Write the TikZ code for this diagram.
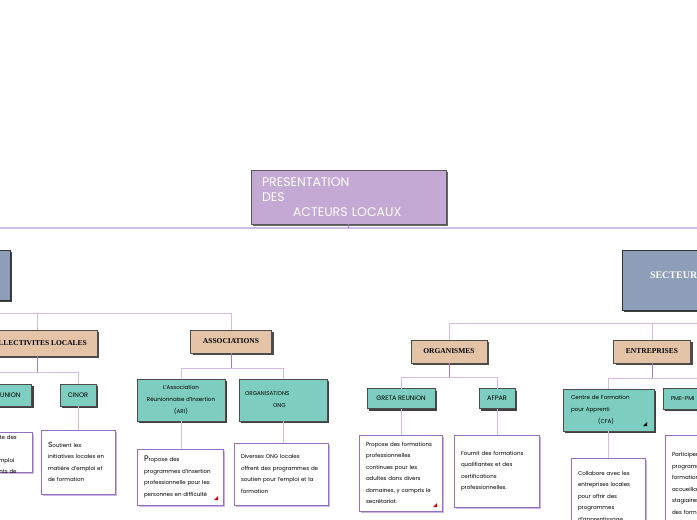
\documentclass[tikz,border=0pt]{standalone}
\usepackage{fontspec}
\setmainfont{Poppins}
\newfontfamily\labelfont{Liberation Serif}
\usetikzlibrary{positioning, shadows}

\definecolor{titlepurple}{HTML}{C4A9D4}
\definecolor{sectorblue}{HTML}{8E9EB8}
\definecolor{grouptan}{HTML}{E4C3A6}
\definecolor{actorteal}{HTML}{7ECDC1}
\definecolor{notepurple}{HTML}{9670BE}
\definecolor{noteshadow}{HTML}{CDB5E2}
\definecolor{barpurple}{HTML}{D3BCE2}
\definecolor{stempurple}{HTML}{A57AC4}

\begin{document}
\begin{tikzpicture}[x=1pt, y=-1pt,
    every node/.style={inner sep=0pt, outer sep=0pt},
    boxshadow/.style={drop shadow={shadow xshift=2pt, shadow yshift=-2pt, fill=#1, opacity=1}},
    titlebox/.style={draw=black!65, fill=titlepurple, boxshadow=black!60, text=white,
        text width=173pt, inner xsep=11pt, minimum height=54pt, align=left,
        font=\fontsize{12.5}{15}\selectfont},
    sectorbox/.style={draw=black!80, fill=sectorblue, boxshadow=black!75},
    sectorlabel/.style={text=white, font=\labelfont\bfseries\fontsize{10}{12}\selectfont},
    groupbox/.style={draw=black!70, fill=grouptan, boxshadow=black!70, minimum height=23pt,
        font=\labelfont\bfseries\fontsize{7.5}{9}\selectfont},
    actorbox/.style={draw=black!70, fill=actorteal, boxshadow=black!75, align=center,
        font=\fontsize{6.5}{12}\selectfont},
    smallcase/.style={font=\fontsize{5.6}{12}\selectfont},
    notebox/.style={draw=notepurple, line width=0.7pt, fill=white, boxshadow=noteshadow,
        inner xsep=7pt, align=left, font=\fontsize{5.5}{11.5}\selectfont},
    bar/.style={draw=barpurple, line width=1pt},
    stem/.style={draw=stempurple, line width=0.8pt},
    marker/.style={fill=#1}]

    \useasboundingbox (0,0) rectangle (697,520);
    \clip (0,0) rectangle (697,520);

    % root and the two sectors
    \node[titlebox] (title) at (348.5,197) {PRESENTATION\\DES\\\hspace{31pt}ACTEURS LOCAUX};
    \node[sectorbox, minimum width=150pt, minimum height=50pt] (public) at (-65,275) {};
    \node[sectorbox, minimum width=200pt, minimum height=60pt] (prive) at (722,280) {};
    \node[sectorlabel, anchor=west] (privelabel) at (650,275) {SECTEUR};

    % groups
    \node[groupbox, minimum width=120pt, minimum height=26pt] (collect) at (37,343) {COLLECTIVITES LOCALES};
    \node[groupbox, minimum width=81pt] (assoc) at (231,341.5) {ASSOCIATIONS};
    \node[groupbox, minimum width=76pt] (organ) at (449,351.5) {ORGANISMES};
    \node[groupbox, minimum width=77pt] (entrep) at (652,351.5) {ENTREPRISES};

    % actors
    \node[actorbox, minimum width=75pt, minimum height=22pt] (region) at (-6,395) {REGION REUNION};
    \node[actorbox, minimum width=36pt, minimum height=22pt] (cinor) at (78,395) {CINOR};
    \node[actorbox, smallcase, minimum width=88pt, minimum height=42pt] (ari) at (181,400) {L'Association\\Réunionnaise d'Insertion\\(ARI)};
    \node[actorbox, smallcase, text width=76pt, inner xsep=6pt, minimum height=42pt, align=left] (ong) at (283,400) {ORGANISATIONS\\\hspace{28pt}ONG};
    \node[actorbox, minimum width=68pt, minimum height=20pt] (greta) at (401,398.5) {GRETA REUNION};
    \node[actorbox, minimum width=36pt, minimum height=20pt] (afpar) at (497,398.5) {AFPAR};
    \node[actorbox, smallcase, text width=75pt, inner xsep=8pt, minimum height=42pt, align=left] (cfa) at (608.5,410) {Centre de Formation\\pour Apprenti\\\hspace{27pt}(CFA)};
    \node[actorbox, smallcase, text width=74pt, inner xsep=8pt, minimum height=21pt, align=left] (pme) at (708,398.5) {PME-PMI};

    % notes
    \node[notebox, text width=86pt, inner ysep=3pt, text depth=30pt, anchor=north] (regnote) at (-18,432) {Accompagne et oriente des\\publics en recherche\\vers des solutions d'emploi\\au service des habitants de};
    \node[notebox, text width=60pt, minimum height=64pt] (cinornote) at (78,462) {{\fontsize{7.5}{11.5}\selectfont S}outient les\\initiatives locales en\\matière d'emploi et\\de formation};
    \node[notebox, text width=72pt, minimum height=56pt] (arinote) at (180,477) {{\fontsize{8}{12}\selectfont P}ropose des\\programmes d'insertion\\professionnelle pour les\\personnes en difficulté};
    \node[notebox, text width=80pt, minimum height=62pt] (ongnote) at (281,474) {Diverses ONG locales\\offrent des programmes de\\soutien pour l'emploi et la\\formation};
    \node[notebox, text width=69pt, minimum height=76pt] (gretanote) at (400.5,473) {Propose des formations\\professionnelles\\continues pour les\\adultes dans divers\\domaines, y compris le\\secrétariat.};
    \node[notebox, text width=71pt, minimum height=72pt] (afparnote) at (496.5,471) {Fournit des formations\\qualifiantes et des\\certifications\\professionnelles.};
    \node[notebox, text width=60pt, minimum height=78pt] (cfanote) at (608,497) {Collabore avec les\\entreprises locales\\pour offrir des\\programmes\\d'apprentissage};
    \node[notebox, text width=76pt, minimum height=110pt] (pmenote) at (710,490) {Participent aux\\programmes de\\formation en\\accueillant des\\stagiaires et\\des formations\\pratiques};

    % connectors
    \draw[bar, line width=1.5pt] (public.north) -- ++(0,-22) -| (prive.north);
    \draw[stem] (title.south) -- (title.south |- 0,228);

    \draw[bar] (public.south) -- ++(0,13) -| (collect.north);
    \draw[bar] (public.south) ++(0,13) -| (assoc.north);
    \draw[bar] (prive.south) -- ++(0,13) -| (organ.north);
    \draw[bar] (prive.south) ++(0,13) -| (entrep.north);

    \draw[bar] (region.north) -- ++(0,-12) -| (cinor.north);
    \draw[stem] (collect.south) -- (collect.south |- 0,372);
    \draw[bar] (ari.north) -- ++(0,-11) -| (ong.north);
    \draw[stem] (assoc.south) -- (assoc.south |- 0,368);
    \draw[bar] (greta.north) -- ++(0,-11.5) -| (afpar.north);
    \draw[stem] (organ.south) -- (organ.south |- 0,377);
    \draw[bar] (cfa.north) -- ++(0,-11) -| (pme.north);
    \draw[stem] (entrep.south) -- (entrep.south |- 0,378);

    \draw[bar] (region.south) -- (region.south |- regnote.north);
    \draw[bar] (cinor.south) -- (cinor.south |- cinornote.north);
    \draw[bar] (ari.south) -- (ari.south |- arinote.north);
    \draw[bar] (ong.south) -- (ong.south |- ongnote.north);
    \draw[bar] (greta.south) -- (greta.south |- gretanote.north);
    \draw[bar] (afpar.south) -- (afpar.south |- afparnote.north);
    \draw[bar] (cfa.south) -- (cfa.south |- cfanote.north);
    \draw[bar] (pme.south) -- (pme.south |- pmenote.north);

    % small note markers
    \fill[marker=red!80!black] (214,500) -- (218,500) -- (218,496) -- cycle;
    \fill[marker=red!80!black] (433,507) -- (437,507) -- (437,503) -- cycle;
    \fill[marker=black] (643,426) -- (647,426) -- (647,422) -- cycle;
\end{tikzpicture}
\end{document}
